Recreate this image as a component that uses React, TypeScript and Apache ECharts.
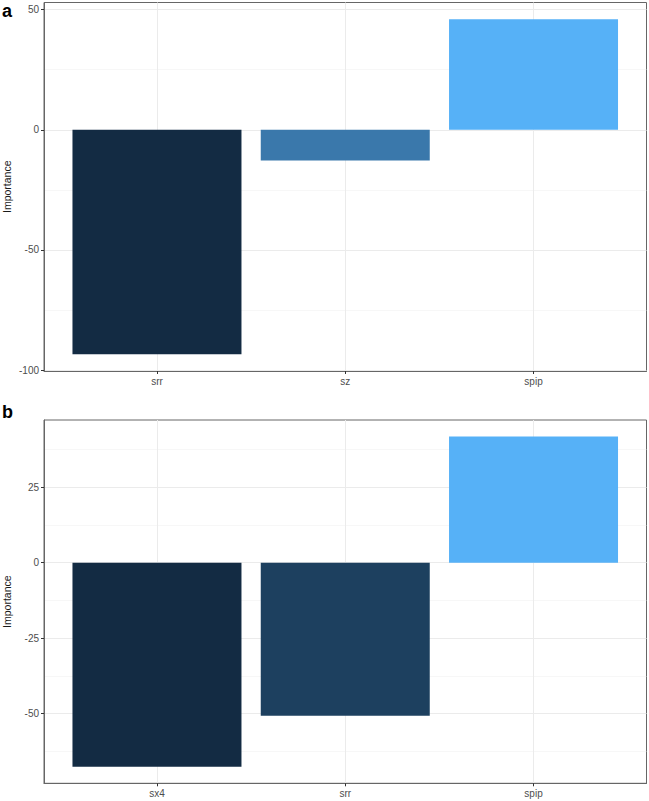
import React, { useEffect, useRef } from "react";
import * as echarts from "echarts";

// Panel a
const categoriesA = ["srr", "sz", "spip"];
const importanceA = [-93.4, -12.8, 46.0];
const yTicksA = [-100, -50, 0, 50];
const yMinorA = [-75, -25, 25];

// Panel b
const categoriesB = ["sx4", "srr", "spip"];
const importanceB = [-67.6, -50.7, 41.8];
const yTicksB = [-50, -25, 0, 25];
const yMinorB = [-62.5, -37.5, -12.5, 12.5, 37.5];

const panelLabels = ["a", "b"];
const xPositions = [1, 2, 3];

const LOW = "#132B43";
const HIGH = "#56B1F7";
const FONT = '"Liberation Sans", Arial, sans-serif';

function expandRange(vals: number[]) {
  const mn = Math.min(...vals);
  const mx = Math.max(...vals);
  const r = mx - mn;
  return { mn, mx, lo: mn - 0.05 * r, hi: mx + 0.05 * r };
}

export default function App() {
  const ref = useRef<HTMLDivElement>(null);

  useEffect(() => {
    if (!ref.current) return;
    const chart = echarts.init(ref.current, undefined, { renderer: "svg" });

    const panels = [
      { cats: categoriesA, vals: importanceA, ticks: yTicksA, minor: yMinorA, top: 2.5, height: 368.5 },
      { cats: categoriesB, vals: importanceB, ticks: yTicksB, minor: yMinorB, top: 420, height: 363.3 },
    ];

    const grids: any[] = [];
    const xAxes: any[] = [];
    const yAxes: any[] = [];
    const series: any[] = [];

    panels.forEach((p, i) => {
      const r = expandRange(p.vals);
      grids.push({
        left: 44,
        top: p.top,
        width: 602.5,
        height: p.height,
        show: true,
        backgroundColor: "#ffffff",
        borderColor: "#666666",
        borderWidth: 1,
        containLabel: false,
        outerBoundsMode: "none",
      });
      xAxes.push({
        type: "value",
        gridIndex: i,
        min: 0.4,
        max: 3.6,
        position: "bottom",
        axisLine: { show: true, onZero: false, lineStyle: { color: "#666666", width: 1 } },
        axisTick: {
          show: true,
          length: 3,
          customValues: xPositions,
          lineStyle: { color: "#333333", width: 1 },
        },
        axisLabel: {
          show: true,
          customValues: xPositions,
          formatter: (v: number) => p.cats[Math.round(v) - 1] ?? "",
          color: "#4D4D4D",
          fontSize: 10,
          fontFamily: FONT,
          margin: 5,
        },
        splitLine: { show: true, lineStyle: { color: "#EBEBEB", width: 1 } },
      });
      // main y axis
      yAxes.push({
        type: "value",
        gridIndex: i,
        min: r.lo,
        max: r.hi,
        position: "left",
        name: "Importance",
        nameLocation: "middle",
        nameGap: 32,
        nameMoveOverlap: false,
        nameTextStyle: { color: "#1A1A1A", fontSize: 10.5, fontFamily: FONT },
        axisLine: { show: true, onZero: false, lineStyle: { color: "#666666", width: 1 } },
        axisTick: {
          show: true,
          length: 3,
          customValues: p.ticks,
          lineStyle: { color: "#333333", width: 1 },
        },
        axisLabel: {
          show: true,
          customValues: p.ticks,
          color: "#4D4D4D",
          fontSize: 10,
          fontFamily: FONT,
          margin: 5,
        },
        splitLine: { show: true, lineStyle: { color: "#EBEBEB", width: 1 } },
      });
      // helper y axis for minor grid lines
      yAxes.push({
        type: "value",
        gridIndex: i,
        min: r.lo,
        max: r.hi,
        position: "left",
        axisLine: { show: false, onZero: false },
        axisTick: { show: false, customValues: p.minor },
        axisLabel: { show: false, customValues: p.minor },
        splitLine: { show: true, lineStyle: { color: "#F2F2F2", width: 0.6 } },
      });
      series.push({
        type: "bar",
        xAxisIndex: i,
        yAxisIndex: i * 2,
        barWidth: 169,
        data: p.vals.map((v, k) => ({
          value: [k + 1, v],
          itemStyle: { color: echarts.color.lerp((v - r.mn) / (r.mx - r.mn), [LOW, HIGH]) },
        })),
      });
    });

    chart.setOption({
      animation: false,
      backgroundColor: "#ffffff",
      grid: grids,
      xAxis: xAxes,
      yAxis: yAxes,
      series,
      graphic: [
        {
          type: "text",
          x: 2,
          y: 1.5,
          style: { text: panelLabels[0], font: `bold 18px ${FONT}`, fill: "#000", verticalAlign: "top" },
        },
        {
          type: "text",
          x: 2,
          y: 403,
          style: { text: panelLabels[1], font: `bold 18px ${FONT}`, fill: "#000", verticalAlign: "top" },
        },
      ],
    });

    return () => chart.dispose();
  }, []);

  return (
    <div
      ref={ref}
      style={{ position: "absolute", left: 0, top: 0, width: 649, height: 801, background: "#fff" }}
    />
  );
}
